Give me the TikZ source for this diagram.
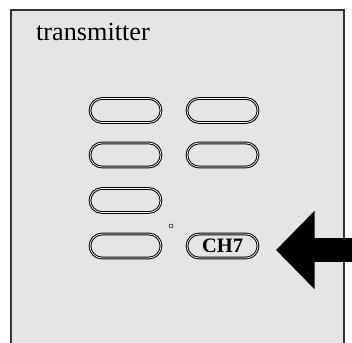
\documentclass[tikz,border=0pt]{standalone}
\usepackage{fontspec}
\setmainfont{Liberation Serif}
\usetikzlibrary{calc,shapes.misc,arrows.meta}
\usepackage{xcolor}
\definecolor{panel}{RGB}{228,229,231}

\begin{document}
\begin{tikzpicture}[x=1pt,y=1pt,black,opacity=1]
			\tikzset{tecla/.style={rounded rectangle,draw=black,double=white,double distance=0.7pt,line width=1pt,fill=panel,minimum width=71pt,minimum height=24pt,inner sep=0pt}}
			\useasboundingbox (0,0) rectangle (352,342);
			\clip (0,0) rectangle (352,342);
			\draw[line width=2pt,draw=black!80,fill=panel] (10.5,-10) rectangle (343.5,331.5);
			\node[anchor=base west,inner sep=0pt,font=\fontsize{26.2}{30}\selectfont] at (36,301.3) (titulo){transmitter};
			\node[tecla] at (125.5,231.5) (T1){};
			\node[tecla] at (222.5,231.5) (T2){};
			\node[tecla] at (125.5,187) (T3){};
			\node[tecla] at (222.5,187) (T4){};
			\node[tecla] at (125.5,141.5) (T5){};
			\node[tecla] at (125.5,96) (T6){};
			\node[tecla,font=\bfseries\fontsize{20.5}{24}\selectfont] at (222.5,96) (CH7){CH7};
			\node[circle,draw=black,line width=0.5pt,inner sep=0pt,minimum size=4pt] at (171,116) (led){};
			\coordinate (origen) at (365,92);
			\coordinate (punta) at ($(CH7.east)+(17.5,-4)$);
			\draw[-{Triangle[length=38.5pt,width=76pt]},line width=24pt] (origen) -- (punta);
	\end{tikzpicture}
\end{document}
